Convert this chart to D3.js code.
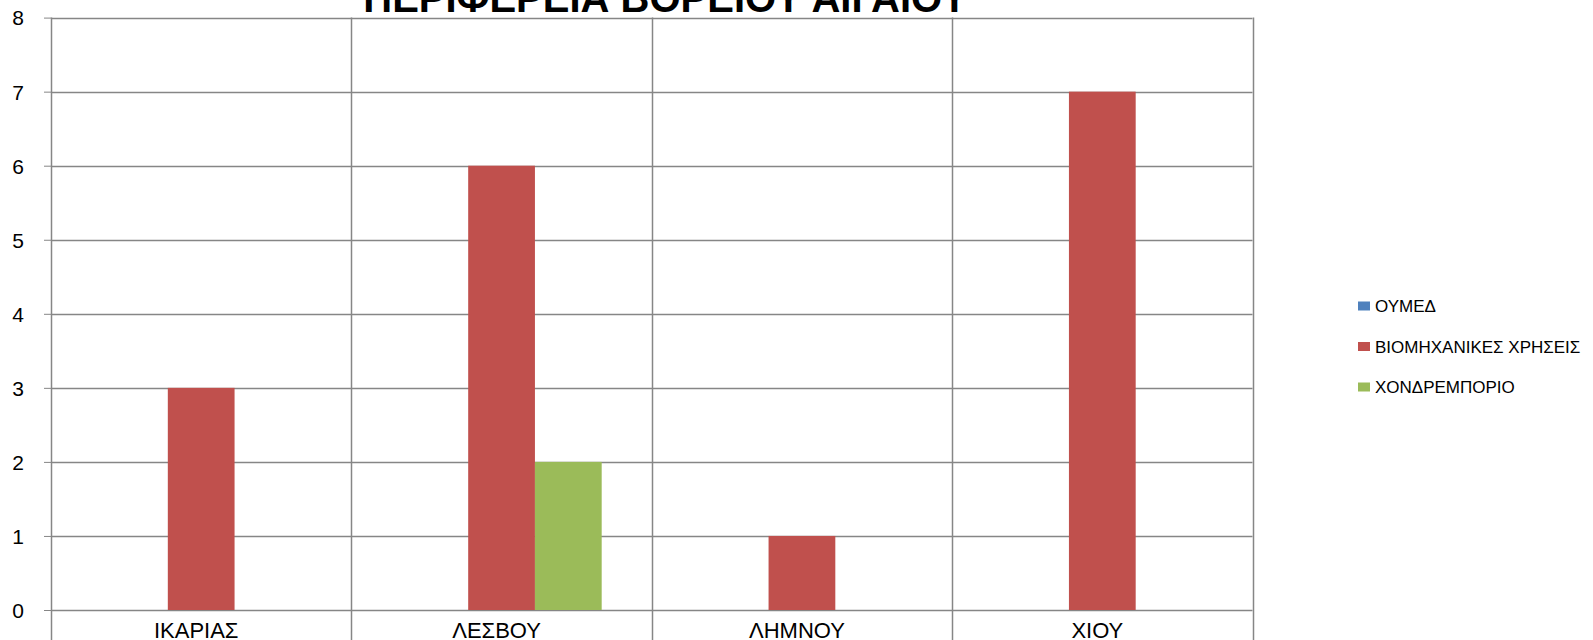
<!DOCTYPE html>
<html>
<head>
<meta charset="utf-8">
<script src="https://cdn.jsdelivr.net/npm/d3@7"></script>
<style>
  body { margin: 0; background: #fff; }
  svg { display: block; font-family: "Liberation Sans", Arial, sans-serif; }
</style>
</head>
<body>
<div id="chart"></div>
<script>
const title = 'ΠΕΡΙΦΕΡΕΙΑ ΒΟΡΕΙΟΥ ΑΙΓΑΙΟΥ';
const categories = ['ΙΚΑΡΙΑΣ', 'ΛΕΣΒΟΥ', 'ΛΗΜΝΟΥ', 'ΧΙΟΥ'];
const seriesNames = ['ΟΥΜΕΔ', 'ΒΙΟΜΗΧΑΝΙΚΕΣ ΧΡΗΣΕΙΣ', 'ΧΟΝΔΡΕΜΠΟΡΙΟ'];
const oymed = [0, 0, 0, 0];
const viomichanikes = [3, 6, 1, 7];
const chondremporio = [0, 2, 0, 0];
const yTicks = [0, 1, 2, 3, 4, 5, 6, 7, 8];
const colors = ['#4F81BD', '#C0504D', '#9BBB59'];

const seriesValues = [oymed, viomichanikes, chondremporio];

const width = 1593;
const height = 640;
const plot = { left: 51, right: 1252.5, top: 17.6, bottom: 610 };

const svg = d3.select('#chart').append('svg')
  .attr('width', width)
  .attr('height', height);

const x = d3.scaleBand().domain(categories).range([plot.left, plot.right]).padding(0);
const xInner = d3.scaleBand().domain(seriesNames).range([0, x.bandwidth()])
  .paddingInner(0).paddingOuter(0.75);
const y = d3.scaleLinear().domain([0, 8]).range([plot.bottom, plot.top]);

const gridColor = '#868686';

// horizontal gridlines + y axis
const yAxis = svg.append('g')
  .attr('transform', `translate(${plot.left},0)`)
  .call(d3.axisLeft(y).tickValues(yTicks).tickSize(7).tickPadding(20).tickFormat(d3.format('d')));
yAxis.select('.domain').remove();
yAxis.selectAll('.tick line').attr('stroke', gridColor);
yAxis.selectAll('.tick text')
  .attr('fill', '#000')
  .style('font-size', '21px')
  .attr('dy', '0.35em');

svg.append('g').selectAll('line')
  .data(yTicks)
  .enter()
  .append('line')
  .attr('x1', plot.left)
  .attr('x2', plot.right)
  .attr('y1', (d) => Math.round(y(d)) + 0.5)
  .attr('y2', (d) => Math.round(y(d)) + 0.5)
  .attr('stroke', gridColor)
  .attr('stroke-width', 1.5);

// vertical lines at category boundaries (run down past the axis)
const bounds = [plot.left].concat(categories.map((c) => x(c) + x.bandwidth()));
svg.append('g').selectAll('line')
  .data(bounds)
  .enter()
  .append('line')
  .attr('x1', (d) => Math.round(d) + 0.5)
  .attr('x2', (d) => Math.round(d) + 0.5)
  .attr('y1', plot.top)
  .attr('y2', height)
  .attr('stroke', gridColor)
  .attr('stroke-width', 1.5);

// bars
const groups = svg.append('g').selectAll('g')
  .data(categories)
  .enter()
  .append('g')
  .attr('transform', (c) => `translate(${x(c)},0)`);

groups.selectAll('rect')
  .data((c, i) => seriesNames.map((s, j) => ({ s: s, v: seriesValues[j][i], color: colors[j] })))
  .enter()
  .append('rect')
  .attr('x', (d) => xInner(d.s))
  .attr('width', xInner.bandwidth())
  .attr('y', (d) => y(d.v))
  .attr('height', (d) => y(0) - y(d.v))
  .attr('fill', (d) => d.color);

// category labels
const xAxis = svg.append('g')
  .attr('transform', `translate(0,${plot.bottom})`)
  .call(d3.axisBottom(x).tickSize(0).tickPadding(12));
xAxis.select('.domain').remove();
xAxis.selectAll('.tick text')
  .attr('fill', '#000')
  .attr('dx', '-5')
  .attr('dy', '0.71em')
  .style('font-size', '22px');

// title (partly cut off at the top)
svg.append('text')
  .attr('x', 665.5)
  .attr('y', 12)
  .attr('text-anchor', 'middle')
  .style('font-size', '40px')
  .style('font-weight', 'bold')
  .text(title);

// legend
const legend = svg.append('g')
  .selectAll('g')
  .data(seriesNames)
  .enter()
  .append('g')
  .attr('transform', (d, i) => `translate(1358,${306 + i * 40.5})`);

legend.append('rect')
  .attr('x', 0)
  .attr('y', -4.5)
  .attr('width', 12)
  .attr('height', 9)
  .attr('fill', (d, i) => colors[i]);

legend.append('text')
  .attr('x', 17)
  .attr('y', 6)
  .style('font-size', '17px')
  .text((d) => d);
</script>
</body>
</html>
